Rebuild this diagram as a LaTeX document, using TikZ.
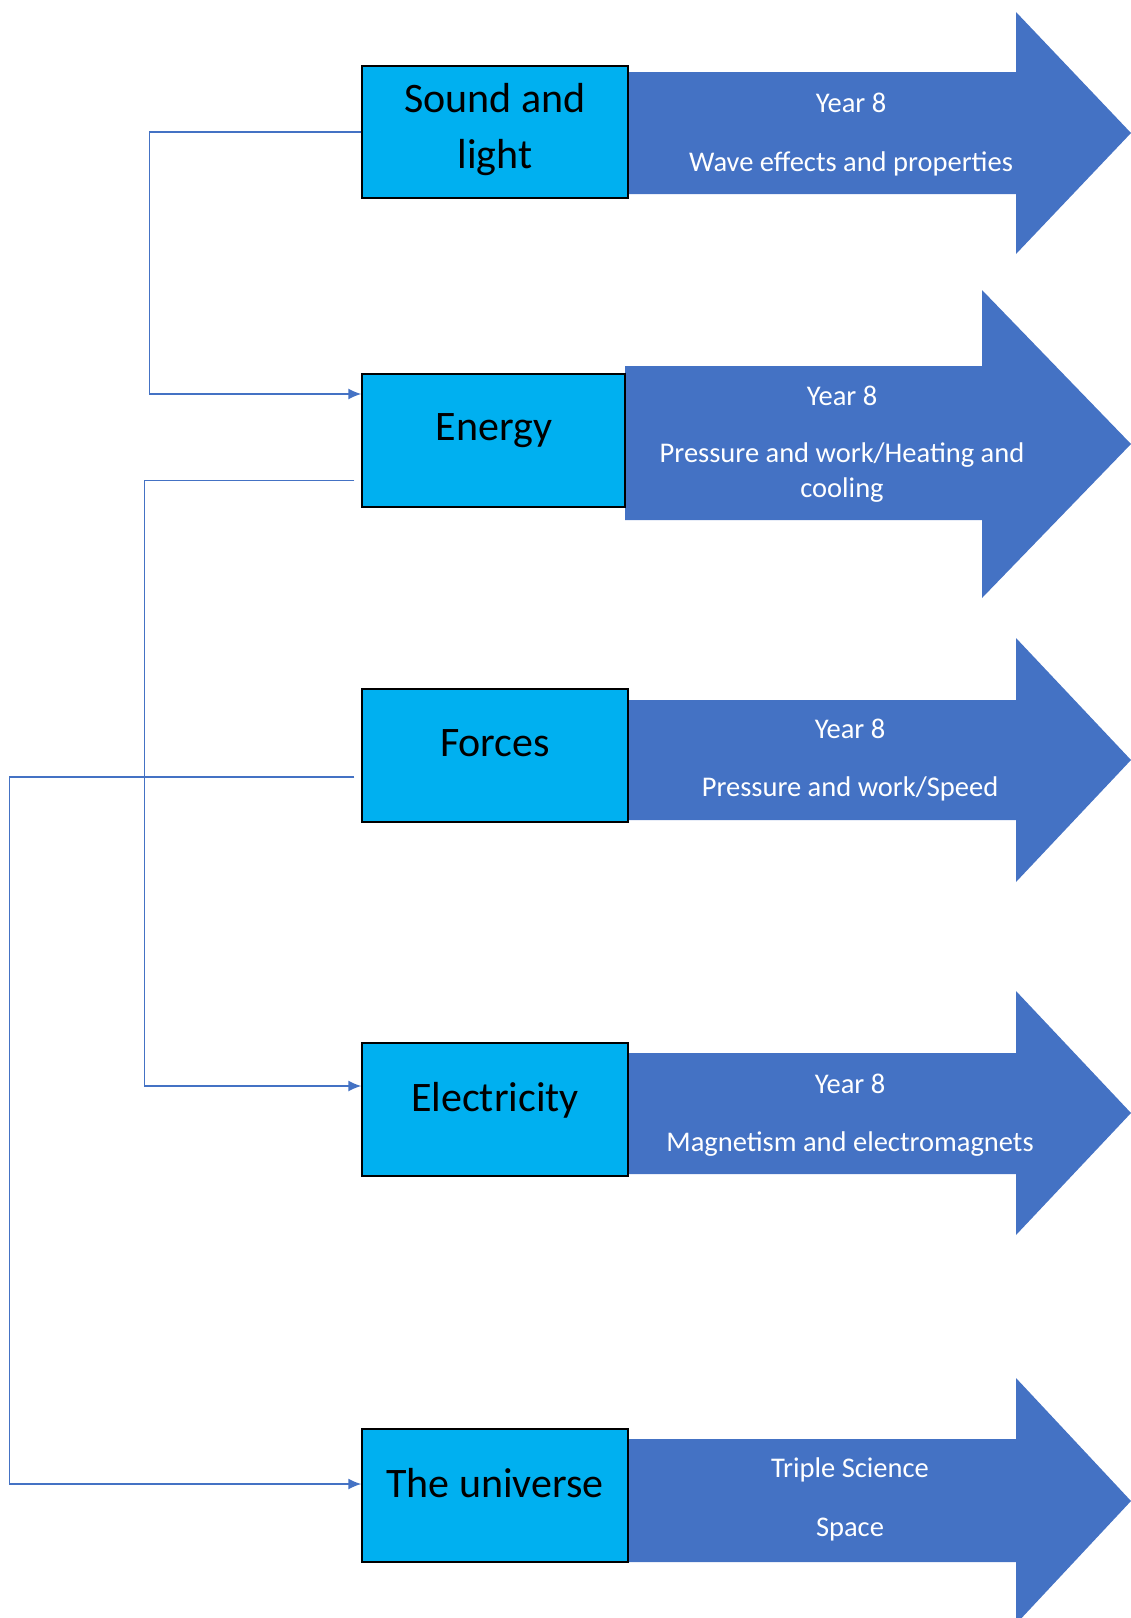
\documentclass[tikz,border=0pt]{standalone}
\usepackage{fontspec}
\setmainfont{Carlito}
\usepackage{tikz}
\usetikzlibrary{arrows.meta}
\definecolor{skyblue}{RGB}{0,176,240}
\definecolor{darkblue}{RGB}{68,114,196}

\begin{document}
\begin{tikzpicture}[x=1pt, y=-1pt,
		topicbox/.style={draw=black, line width=1.4pt, fill=skyblue, inner sep=0pt},
		topictext/.style={anchor=base, align=center, font=\fontsize{42}{56}\selectfont},
		yeartext/.style={anchor=base, align=center, text=white, font=\fontsize{28.5}{35}\selectfont},
		link/.style={draw=darkblue, line width=1.4pt, -{Latex[length=13pt,width=11pt]}}]

		\useasboundingbox (0,0) rectangle (1131,1618);

		% big arrows
		\fill[darkblue] (628,72) -- (1016,72) -- (1016,12) -- (1131,133) -- (1016,254) -- (1016,194) -- (628,194) -- cycle;
		\fill[darkblue] (625,366) -- (982,366) -- (982,290) -- (1131,444) -- (982,598) -- (982,520) -- (625,520) -- cycle;
		\fill[darkblue] (628,700) -- (1016,700) -- (1016,638) -- (1131,760) -- (1016,882) -- (1016,820) -- (628,820) -- cycle;
		\fill[darkblue] (628,1053) -- (1016,1053) -- (1016,991) -- (1131,1113) -- (1016,1235) -- (1016,1174) -- (628,1174) -- cycle;
		\fill[darkblue] (628,1439) -- (1016,1439) -- (1016,1378) -- (1131,1501) -- (1016,1624) -- (1016,1562) -- (628,1562) -- cycle;

		% topic boxes
		\node[topicbox, minimum width=266pt, minimum height=132pt] (sound) at (495,132) {};
		\node[topicbox, minimum width=263pt, minimum height=133pt] (energy) at (493.5,440.5) {};
		\node[topicbox, minimum width=266pt, minimum height=133pt] (forces) at (495,755.5) {};
		\node[topicbox, minimum width=266pt, minimum height=133pt] (electricity) at (495,1109.5) {};
		\node[topicbox, minimum width=266pt, minimum height=133pt] (universe) at (495,1495.5) {};

		\node[topictext] (soundtxt) at (495,168) {Sound and\\light};
		\node[topictext] (energytxt) at (494,440) {Energy};
		\node[topictext] (forcestxt) at (495,756) {Forces};
		\node[topictext] (electricitytxt) at (495,1111) {Electricity};
		\node[topictext] (universetxt) at (495,1497) {The universe};

		% links between topics
		\draw[link] (sound.west) -- ++(-212,0) |- ([yshift=46.5pt]energy.west);
		\draw[link] ([shift={(-7pt,-40pt)}]energy.west) -- ++(-210,0) |- ([yshift=23.5pt]electricity.west);
		\draw[link] ([shift={(-7pt,-21.5pt)}]forces.west) -- ++(-345,0) |- ([yshift=11.5pt]universe.west);

		% arrow texts
		\node[yeartext] (year1) at (851,112) {Year 8};
		\node[yeartext] (next1) at (851,171) {Wave effects and properties};
		\node[yeartext] (year2) at (842,405) {Year 8};
		\node[yeartext] (next2) at (842,497) {Pressure and work/Heating and\\cooling};
		\node[yeartext] (year3) at (850,738) {Year 8};
		\node[yeartext] (next3) at (850,796) {Pressure and work/Speed};
		\node[yeartext] (year4) at (850,1093) {Year 8};
		\node[yeartext] (next4) at (850,1151) {Magnetism and electromagnets};
		\node[yeartext] (year5) at (850,1477) {Triple Science};
		\node[yeartext] (next5) at (850,1536) {Space};

\end{tikzpicture}
\end{document}
